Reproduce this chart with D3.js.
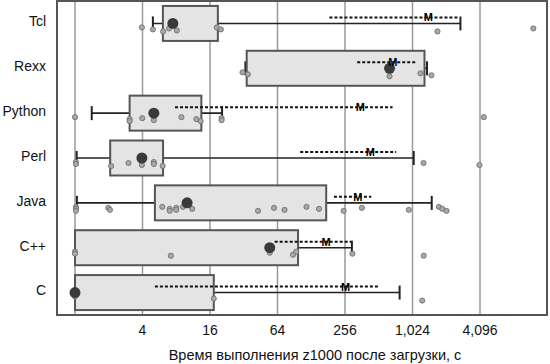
<!DOCTYPE html>
<html>
<head>
<meta charset="utf-8">
<script src="https://cdn.jsdelivr.net/npm/d3@7"></script>
<style>
  body { margin: 0; background: #fff; }
  text { font-family: "Liberation Sans", Arial, sans-serif; }
</style>
</head>
<body>
<div id="chart"></div>
<script>
(function () {
	// data (seconds)
	var languages = ['Tcl', 'Rexx', 'Python', 'Perl', 'Java', 'C++', 'C'];
	var whiskerLo = [4.95, 33.1, 1.41, 1.035, 1.04, 1, 1];
	var q1 = [6.08, 34, 3.07, 2.06, 5.16, 1, 1];
	var median = [7.46, 639, 5.05, 3.95, 10, 54.6, 1];
	var q3 = [18.8, 1310, 13.4, 6.1, 174, 97.6, 17.3];
	var whiskerHi = [2740, 1380, 20.5, 1050, 1520, 295, 786];
	var mean = [1420, 685, 350, 430, 333, 174, 259];
	var seLo = [186, 329, 7.8, 102, 204, 60.4, 5.16];
	var seHi = [2685, 1105, 680, 733, 439, 292, 514];
	var points = [
		[3.95, 4.95, 6.1, 6.9, 8.1, 18.4, 20, 1710, 12250],
		[31.2, 34.8, 639, 1207, 1510],
		[1.0, 3.07, 3.07, 3.98, 5.05, 8.9, 12.1, 13.2, 20.3, 20.3, 4430],
		[1.02, 1.02, 2.1, 3.0, 3.95, 5.05, 5.05, 6.05, 1285, 4050],
		[1.02, 1.02, 1.02, 1.98, 2.05, 6.0, 7.0, 7.0, 8.0, 8.0, 9.2, 11.1, 42.9, 59.6, 74, 116, 150, 249, 362, 950, 1760, 1890, 2060],
		[1.0, 1.0, 7.16, 54.6, 88, 94, 298, 1290],
		[1.0, 17.3, 1250]
	];
	var gridValues = [1, 4, 16, 64, 256, 1024, 4096];
	var tickValues = [4, 16, 64, 256, 1024, 4096];
	var xTitle = 'Время выполнения z1000 после загрузки, с';

	var width = 550, height = 364;
	var plot = { left: 57, right: 547, top: 1, bottom: 315 };

	var svg = d3.select('#chart').append('svg')
		.attr('width', width).attr('height', height);

	var x = d3.scaleLog().base(2)
		.domain([1, 4096])
		.range([75, 480]);
	var y = d3.scaleBand()
		.domain(languages)
		.range([plot.top, plot.bottom])
		.paddingInner(0.22).paddingOuter(0.11);

	// grid
	svg.append('g').selectAll('line')
		.data(gridValues).enter().append('line')
		.attr('x1', d => x(d)).attr('x2', d => x(d))
		.attr('y1', plot.top).attr('y2', plot.bottom)
		.attr('stroke', '#9a9a9a').attr('stroke-width', 1.5);

	var rows = languages.map((name, i) => ({
		name: name, lo: whiskerLo[i], q1: q1[i], med: median[i], q3: q3[i],
		hi: whiskerHi[i], mean: mean[i], seLo: seLo[i], seHi: seHi[i], pts: points[i]
	}));

	var row = svg.append('g').selectAll('g')
		.data(rows).enter().append('g')
		.attr('transform', d => 'translate(0,' + (y(d.name) + y.bandwidth() / 2) + ')');

	var bh = y.bandwidth();

	// whisker line
	row.append('line')
		.attr('x1', d => x(d.lo)).attr('x2', d => x(d.hi))
		.attr('y1', 0).attr('y2', 0)
		.attr('stroke', '#222').attr('stroke-width', 1.6);
	row.selectAll('.tick-end')
		.data(d => [d.lo, d.hi].filter(v => v > 1.01))
		.enter().append('line')
		.attr('x1', v => x(v)).attr('x2', v => x(v))
		.attr('y1', -7).attr('y2', 7)
		.attr('stroke', '#222').attr('stroke-width', 2);

	// box
	row.append('rect')
		.attr('x', d => x(d.q1))
		.attr('y', -bh / 2)
		.attr('width', d => x(d.q3) - x(d.q1))
		.attr('height', bh)
		.attr('fill', '#e4e4e4')
		.attr('stroke', '#555').attr('stroke-width', 2);

	// individual points
	row.selectAll('.pt')
		.data(d => d.pts)
		.enter().append('circle')
		.attr('cx', v => x(v))
		.attr('cy', (v, i) => 4 + (i * 2 % 5))
		.attr('r', 2.6)
		.attr('fill', '#a8a8a8')
		.attr('stroke', '#6a6a6a').attr('stroke-width', 0.8);

	// median
	row.append('circle')
		.attr('cx', d => x(d.med)).attr('cy', 0)
		.attr('r', 5.5)
		.attr('fill', '#3a3a3a');

	// mean +- standard error
	row.append('line')
		.attr('x1', d => x(d.seLo)).attr('x2', d => x(d.seHi))
		.attr('y1', -6).attr('y2', -6)
		.attr('stroke', '#111').attr('stroke-width', 2)
		.attr('stroke-dasharray', '3,2');
	row.append('text')
		.attr('x', d => x(d.mean)).attr('y', -2)
		.attr('text-anchor', 'middle')
		.attr('font-size', 11).attr('font-weight', 'bold')
		.attr('fill', '#000')
		.text('M');

	// frame
	svg.append('rect')
		.attr('x', plot.left).attr('y', plot.top)
		.attr('width', plot.right - plot.left).attr('height', plot.bottom - plot.top)
		.attr('fill', 'none').attr('stroke', '#555').attr('stroke-width', 2);

	// category labels
	svg.append('g').selectAll('text')
		.data(languages).enter().append('text')
		.attr('x', 46)
		.attr('y', d => y(d) + y.bandwidth() / 2 - 2)
		.attr('dy', '0.35em')
		.attr('text-anchor', 'end')
		.attr('font-size', 14)
		.attr('fill', '#111')
		.text(d => d);

	// x tick labels
	svg.append('g').selectAll('text')
		.data(tickValues).enter().append('text')
		.attr('x', d => x(d))
		.attr('y', 335)
		.attr('text-anchor', 'middle')
		.attr('font-size', 14)
		.attr('fill', '#111')
		.text(d => d3.format(',')(d));

	svg.append('text')
		.attr('x', 315).attr('y', 360)
		.attr('text-anchor', 'middle')
		.attr('font-size', 14.5)
		.attr('fill', '#111')
		.text(xTitle);
})();
</script>
</body>
</html>
